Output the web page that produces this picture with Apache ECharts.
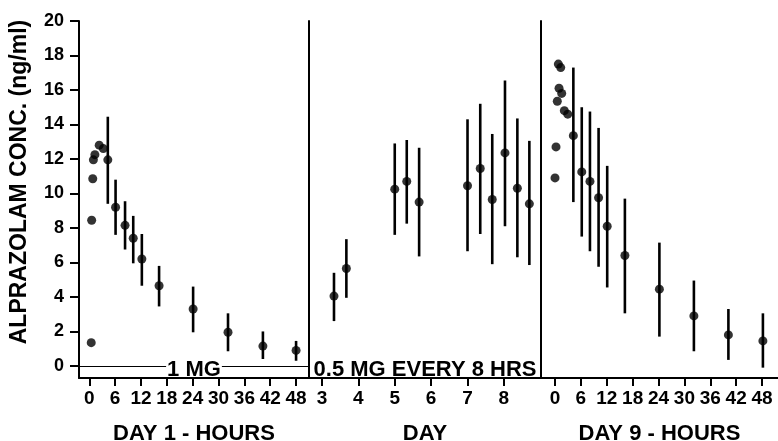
<!DOCTYPE html>
<html>
<head>
<meta charset="utf-8">
<script src="https://cdn.jsdelivr.net/npm/echarts@6/dist/echarts.min.js"></script>
<style>
  html, body { margin: 0; padding: 0; background: #fff; }
  #chart { width: 778px; height: 441px; }
</style>
</head>
<body>
<div id="chart"></div>
<script>
// tick labels
const yTicks = [0, 2, 4, 6, 8, 10, 12, 14, 16, 18, 20]
const hourTicks = [0, 6, 12, 18, 24, 30, 36, 42, 48]
const dayTicks = [3, 4, 5, 6, 7, 8]

// day 1, single 1 mg dose: early samples (no error bars)
const day1EarlyHours = [0.45, 0.55, 0.8, 0.95, 1.3, 2.3, 3.25]
const day1EarlyConc = [1.35, 8.45, 10.85, 11.95, 12.25, 12.8, 12.6]
// day 1: mean with range
const day1Hours = [4.3, 6.1, 8.3, 10.2, 12.2, 16.2, 24.1, 32.2, 40.3, 48]
const day1Mean = [11.95, 9.2, 8.15, 7.4, 6.2, 4.65, 3.3, 1.95, 1.15, 0.9]
const day1Low = [9.4, 7.6, 6.75, 5.95, 4.65, 3.45, 1.95, 0.85, 0.4, 0.3]
const day1High = [14.45, 10.8, 9.55, 8.7, 7.65, 5.8, 4.6, 3.05, 2.0, 1.45]

// days 3-8, 0.5 mg every 8 hrs
const steadyDays = [3.33, 3.67, 5.0, 5.33, 5.67, 7.0, 7.35, 7.68, 8.03, 8.37, 8.7]
const steadyMean = [4.05, 5.65, 10.25, 10.7, 9.5, 10.45, 11.45, 9.65, 12.35, 10.3, 9.4]
const steadyLow = [2.6, 3.95, 7.6, 8.25, 6.35, 6.65, 7.65, 5.9, 8.1, 6.3, 5.85]
const steadyHigh = [5.4, 7.35, 12.9, 13.1, 12.65, 14.3, 15.2, 13.45, 16.55, 14.35, 13.05]

// day 9
const day9EarlyHours = [0.0, 0.23, 0.53, 0.77, 0.93, 1.32, 1.55, 2.16, 2.95]
const day9EarlyConc = [10.9, 12.7, 15.35, 17.5, 16.1, 17.3, 15.8, 14.8, 14.6]
const day9Hours = [4.25, 6.2, 8.1, 10.1, 12.1, 16.2, 24.2, 32.2, 40.2, 48.2]
const day9Mean = [13.35, 11.25, 10.7, 9.75, 8.1, 6.4, 4.45, 2.9, 1.8, 1.45]
const day9Low = [9.5, 7.5, 6.65, 5.75, 4.55, 3.05, 1.7, 0.85, 0.35, -0.1]
const day9High = [17.3, 15.0, 14.75, 13.8, 11.6, 9.7, 7.15, 4.95, 3.3, 3.05]

// x ranges of the three panels
const day1Range = [-2.39, 51.0]
const steadyRange = [2.643, 9.02]
const day9Range = [-3.25, 51.7]

const SANS = '"Liberation Sans", Arial, sans-serif'

const zip = (xs, ys) => xs.map((x, i) => [x, ys[i]])
const bars = (xs, lo, hi) => xs.map((x, i) => [x, lo[i], hi[i]])
const mid = r => (r[0] + r[1]) / 2

function errorBar(params, api) {
  const top = api.coord([api.value(0), api.value(2)])
  const bottom = api.coord([api.value(0), api.value(1)])
  return {
    type: 'line',
    shape: { x1: top[0], y1: top[1], x2: bottom[0], y2: bottom[1] },
    style: { stroke: '#000', lineWidth: 2.6 }
  }
}

function xAxisFor(idx, range, ticks, name) {
  return {
    type: 'value',
    gridIndex: idx,
    min: range[0],
    max: range[1],
    name: name,
    nameLocation: 'middle',
    nameGap: 45,
    nameTextStyle: { fontFamily: SANS, fontWeight: 'bold', fontSize: 22, color: '#000' },
    axisLine: { show: true, onZero: false, lineStyle: { color: '#000', width: 2 } },
    axisTick: { show: true, customValues: ticks, length: 8, lineStyle: { color: '#000', width: 2 } },
    axisLabel: {
      customValues: ticks,
      margin: 11,
      showMinLabel: true,
      showMaxLabel: true,
      hideOverlap: false,
      fontFamily: SANS,
      fontWeight: 'bold',
      fontSize: 19,
      color: '#000'
    },
    splitLine: { show: false }
  }
}

function yAxisFor(idx, showLabels) {
  return {
    type: 'value',
    gridIndex: idx,
    min: -0.7,
    max: 20,
    axisLine: { show: true, onZero: false, lineStyle: { color: '#000', width: 2 } },
    axisTick: { show: showLabels, customValues: yTicks, length: 9, lineStyle: { color: '#000', width: 2 } },
    axisLabel: {
      show: showLabels,
      customValues: yTicks,
      margin: 15,
      fontFamily: SANS,
      fontWeight: 'bold',
      fontSize: 18,
      color: '#000'
    },
    splitLine: { show: false }
  }
}

function dots(idx, data, extra) {
  return Object.assign({
    type: 'scatter',
    xAxisIndex: idx,
    yAxisIndex: idx,
    data: data,
    symbol: 'circle',
    symbolSize: 9,
    itemStyle: { color: '#000' },
    z: 3
  }, extra || {})
}

function rangeSeries(idx, data) {
  return {
    type: 'custom',
    xAxisIndex: idx,
    yAxisIndex: idx,
    data: data,
    renderItem: errorBar,
    encode: { x: 0, y: [1, 2] },
    z: 2
  }
}

// dose label sitting on the zero line
function doseLabel(text, x) {
  return {
    silent: true,
    symbol: 'rect',
    symbolSize: 1,
    itemStyle: { color: 'rgba(0,0,0,0)' },
    label: {
      show: true,
      position: 'inside',
      formatter: text,
      offset: [0, 4],
      fontFamily: SANS,
      fontWeight: 'bold',
      fontSize: 22,
      lineHeight: 14,
      color: '#000',
      backgroundColor: '#fff',
      padding: [0, 1]
    },
    data: [{ coord: [x, 0] }]
  }
}

const zeroLine = {
  silent: true,
  symbol: ['none', 'none'],
  label: { show: false },
  lineStyle: { color: '#000', width: 1.2, type: 'solid' },
  data: [{ yAxis: 0 }]
}

const chart = echarts.init(document.getElementById('chart'))

const gridBase = { top: 21, height: 357, containLabel: false, outerBoundsMode: 'none' }

chart.setOption({
  animation: false,
  backgroundColor: '#fff',
  grid: [
    Object.assign({ left: 79, width: 230 }, gridBase),
    Object.assign({ left: 309, width: 232 }, gridBase),
    Object.assign({ left: 541, width: 237 }, gridBase)
  ],
  xAxis: [
    xAxisFor(0, day1Range, hourTicks, 'DAY 1 - HOURS'),
    xAxisFor(1, steadyRange, dayTicks, 'DAY'),
    xAxisFor(2, day9Range, hourTicks, 'DAY 9 - HOURS')
  ],
  yAxis: [yAxisFor(0, true), yAxisFor(1, false), yAxisFor(2, false)],
  graphic: [
    {
      type: 'text',
      x: 20,
      y: 182,
      rotation: Math.PI / 2,
      style: {
        text: 'ALPRAZOLAM CONC. (ng/ml)',
        font: 'bold 23px ' + SANS,
        fill: '#000',
        align: 'center',
        verticalAlign: 'middle'
      }
    }
  ],
  series: [
    rangeSeries(0, bars(day1Hours, day1Low, day1High)),
    dots(0, zip(day1EarlyHours, day1EarlyConc), {
      markLine: zeroLine,
      markPoint: doseLabel('1 MG', mid(day1Range))
    }),
    dots(0, zip(day1Hours, day1Mean)),
    rangeSeries(1, bars(steadyDays, steadyLow, steadyHigh)),
    dots(1, zip(steadyDays, steadyMean), {
      markPoint: doseLabel('0.5 MG EVERY 8 HRS', mid(steadyRange))
    }),
    rangeSeries(2, bars(day9Hours, day9Low, day9High)),
    dots(2, zip(day9EarlyHours, day9EarlyConc)),
    dots(2, zip(day9Hours, day9Mean))
  ]
})
</script>
</body>
</html>
